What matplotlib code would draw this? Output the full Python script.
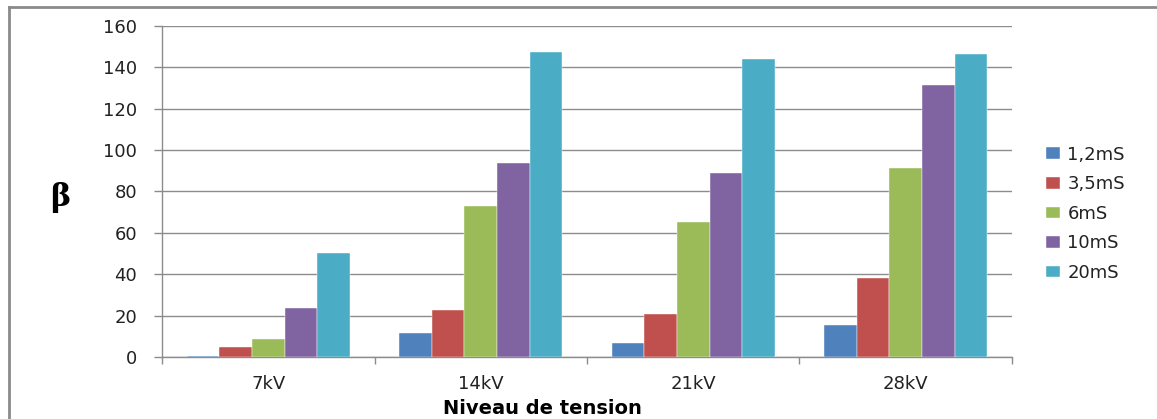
import matplotlib
matplotlib.use("Agg")
import matplotlib.pyplot as plt
from matplotlib.lines import Line2D
import numpy as np

plt.rcParams["font.family"] = ["DejaVu Sans"]

categories = ["7kV", "14kV", "21kV", "28kV"]
series_names = ["1,2mS", "3,5mS", "6mS", "10mS", "20mS"]
s_1_2 = [0.7, 11.7, 6.6, 15.5]
s_3_5 = [5.0, 22.5, 20.6, 38.2]
s_6 = [8.5, 73.1, 65.2, 91.3]
s_10 = [23.7, 93.5, 89.0, 131.2]
s_20 = [50.1, 147.1, 143.7, 146.1]
series_values = [s_1_2, s_3_5, s_6, s_10, s_20]
colors = ["#4F81BD", "#C0504D", "#9BBB59", "#8064A2", "#4BACC6"]
y_ticks = [0, 20, 40, 60, 80, 100, 120, 140, 160]

W, H = 1157, 419
fig = plt.figure(figsize=(W / 100, H / 100), dpi=100)
ax = fig.add_axes([162 / W, 1 - 357 / H, (1012 - 162) / W, (357 - 25.7) / H])

grey = "#8C8C8C"
txt = "#222222"
fs = 13

x = np.arange(len(categories))
w = 1 / 6.5
for i, (name, vals, c) in enumerate(zip(series_names, series_values, colors)):
    ax.bar(x + (i - 2) * w, vals, width=w, color=c, label=name, zorder=3,
           edgecolor="#FFFFFF", linewidth=0.3)

ax.set_xlim(-0.5, len(categories) - 0.5)
ax.set_ylim(0, 160)
ax.set_yticks(y_ticks)
ax.set_yticklabels([str(v) for v in y_ticks], fontsize=fs, color=txt)
ax.set_xticks(x)
ax.set_xticklabels(categories, fontsize=fs, color=txt)
ax.set_xticks(np.arange(len(categories) + 1) - 0.5, minor=True)
ax.tick_params(axis="x", which="major", length=0, pad=13)
ax.tick_params(axis="x", which="minor", length=5, width=1, color=grey, direction="out")
ax.tick_params(axis="y", which="major", length=6, width=1, color=grey, pad=12)
ax.yaxis.grid(True, color=grey, linewidth=1, zorder=0)
ax.set_axisbelow(True)
for s in ["top", "right"]:
    ax.spines[s].set_visible(False)
for s in ["left", "bottom"]:
    ax.spines[s].set_color(grey)
    ax.spines[s].set_linewidth(1)

fig.text(60 / W, 1 - 197 / H, "β", fontsize=22, fontweight="bold",
         family="DejaVu Serif", ha="center", va="center", color="black")
fig.text(542 / W, 1 - 408 / H, "Niveau de tension", fontsize=14, fontweight="bold",
         ha="center", va="center", color="black")

leg = fig.legend(loc="center left", bbox_to_anchor=(1046 / W, 1 - 213.7 / H),
                 frameon=False, fontsize=fs, handlelength=0.78, handleheight=0.61,
                 handletextpad=0.4, labelspacing=0.64, borderpad=0, borderaxespad=0)
for t in leg.get_texts():
    t.set_color(txt)

# outer frame (left and top edges)
fig.add_artist(Line2D([8.5 / W, 8.5 / W], [0, 1 - 7 / H], transform=fig.transFigure,
                      color="#8A8A8A", linewidth=2))
fig.add_artist(Line2D([8.5 / W, 1], [1 - 7 / H, 1 - 7 / H], transform=fig.transFigure,
                      color="#8A8A8A", linewidth=2))

fig.savefig("out.png", dpi=100, facecolor="white")
